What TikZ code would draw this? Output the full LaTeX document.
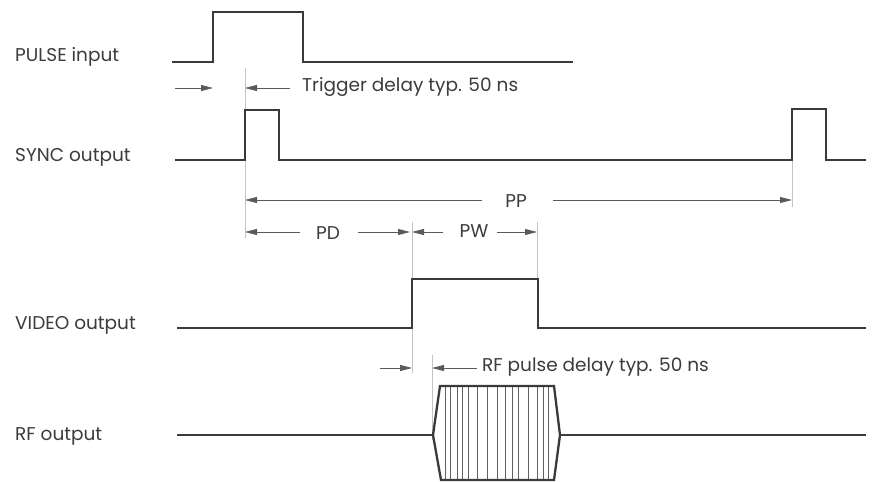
\documentclass[tikz,border=0pt]{standalone}
\usepackage{fontspec}
\setmainfont{Poppins}
\usetikzlibrary{arrows.meta}
\definecolor{sig}{HTML}{3A3A3A}
\definecolor{dim}{HTML}{5A5A5A}
\definecolor{ext}{HTML}{C4C4C4}
\definecolor{txt}{HTML}{3C3C3C}
\begin{document}
\begin{tikzpicture}[x=1pt,y=-1pt,
  signal/.style={draw=sig,line width=2.3pt,line join=miter},
  dimline/.style={draw=dim,line width=0.8pt,-{Triangle[length=12pt,width=6pt]}},
  extline/.style={draw=ext,line width=0.7pt},
  hatch/.style={draw=sig!80,line width=0.6pt},
  lbl/.style={text=txt,font=\fontsize{18.5}{20}\selectfont,inner sep=0pt},
  sidelbl/.style={lbl,anchor=west}]
\useasboundingbox[fill=white] (0,0) rectangle (876,482);
% side labels
\node[sidelbl] (lpulse) at (15,57) {PULSE input};
\node[sidelbl] (lsync) at (15,157) {SYNC output};
\node[sidelbl] (lvideo) at (15,325) {VIDEO output};
\node[sidelbl] (lrf) at (15,436) {RF output};
% extension lines
\draw[extline] (245,68) -- (245,238);
\draw[extline] (792,109) -- (792,207);
\draw[extline] (412,222) -- (412,373);
\draw[extline] (537,222) -- (537,279);
\draw[extline] (432,355) -- (432,440);
% signals
\draw[signal] (172,62) -- (213,62) -- (213,12) -- (303,12) -- (303,62) -- (573,62);
\draw[signal] (175,160) -- (245,160) -- (245,110) -- (279,110) -- (279,160) -- (792,160) -- (792,109) -- (826,109) -- (826,160) -- (866,160);
\draw[signal] (177,328) -- (412,328) -- (412,279) -- (538,279) -- (538,328) -- (866,328);
% RF pulse
\foreach \xx in {445,450,457,462,468,477,487,497,505,512,518,528,537,543,548}
  \draw[hatch] (\xx,387) -- (\xx,479);
\draw[signal] (433,435) -- (440,386) -- (554,386) -- (560,435) -- (554,480) -- (441,480) -- cycle;
\draw[signal] (177,435) -- (433,435);
\draw[signal] (560,435) -- (866,435);
% trigger delay
\coordinate (tdA) at (175,88);
\coordinate (tdB) at (213,88);
\coordinate (tdC) at (290,88);
\coordinate (tdD) at (245,88);
\draw[dimline] (tdA) -- (tdB);
\draw[dimline] (tdC) -- (tdD);
\node[lbl,anchor=west] (tdtxt) at (302,87) {Trigger delay typ. 50 ns};
% PP
\node[lbl] (pp) at (516,201) {PP};
\coordinate (ppL) at (245,200);
\coordinate (ppR) at (792,200);
\draw[dimline] (482,200) -- (ppL);
\draw[dimline] (553,200) -- (ppR);
% PD
\node[lbl] (pd) at (328,233) {PD};
\coordinate (pdL) at (245,232);
\coordinate (pdR) at (410,232);
\draw[dimline] (300,232) -- (pdL);
\draw[dimline] (358,232) -- (pdR);
% PW
\node[lbl] (pw) at (474,231) {PW};
\coordinate (pwL) at (412,232);
\coordinate (pwR) at (537,232);
\draw[dimline] (443,232) -- (pwL);
\draw[dimline] (497,232) -- (pwR);
% RF delay
\coordinate (rdA) at (380,368);
\coordinate (rdB) at (412,368);
\coordinate (rdC) at (477,368);
\coordinate (rdD) at (432,368);
\draw[dimline] (rdA) -- (rdB);
\draw[dimline] (rdC) -- (rdD);
\node[lbl,anchor=west] (rdtxt) at (482,367) {RF pulse delay typ. 50 ns};
\end{tikzpicture}
\end{document}
